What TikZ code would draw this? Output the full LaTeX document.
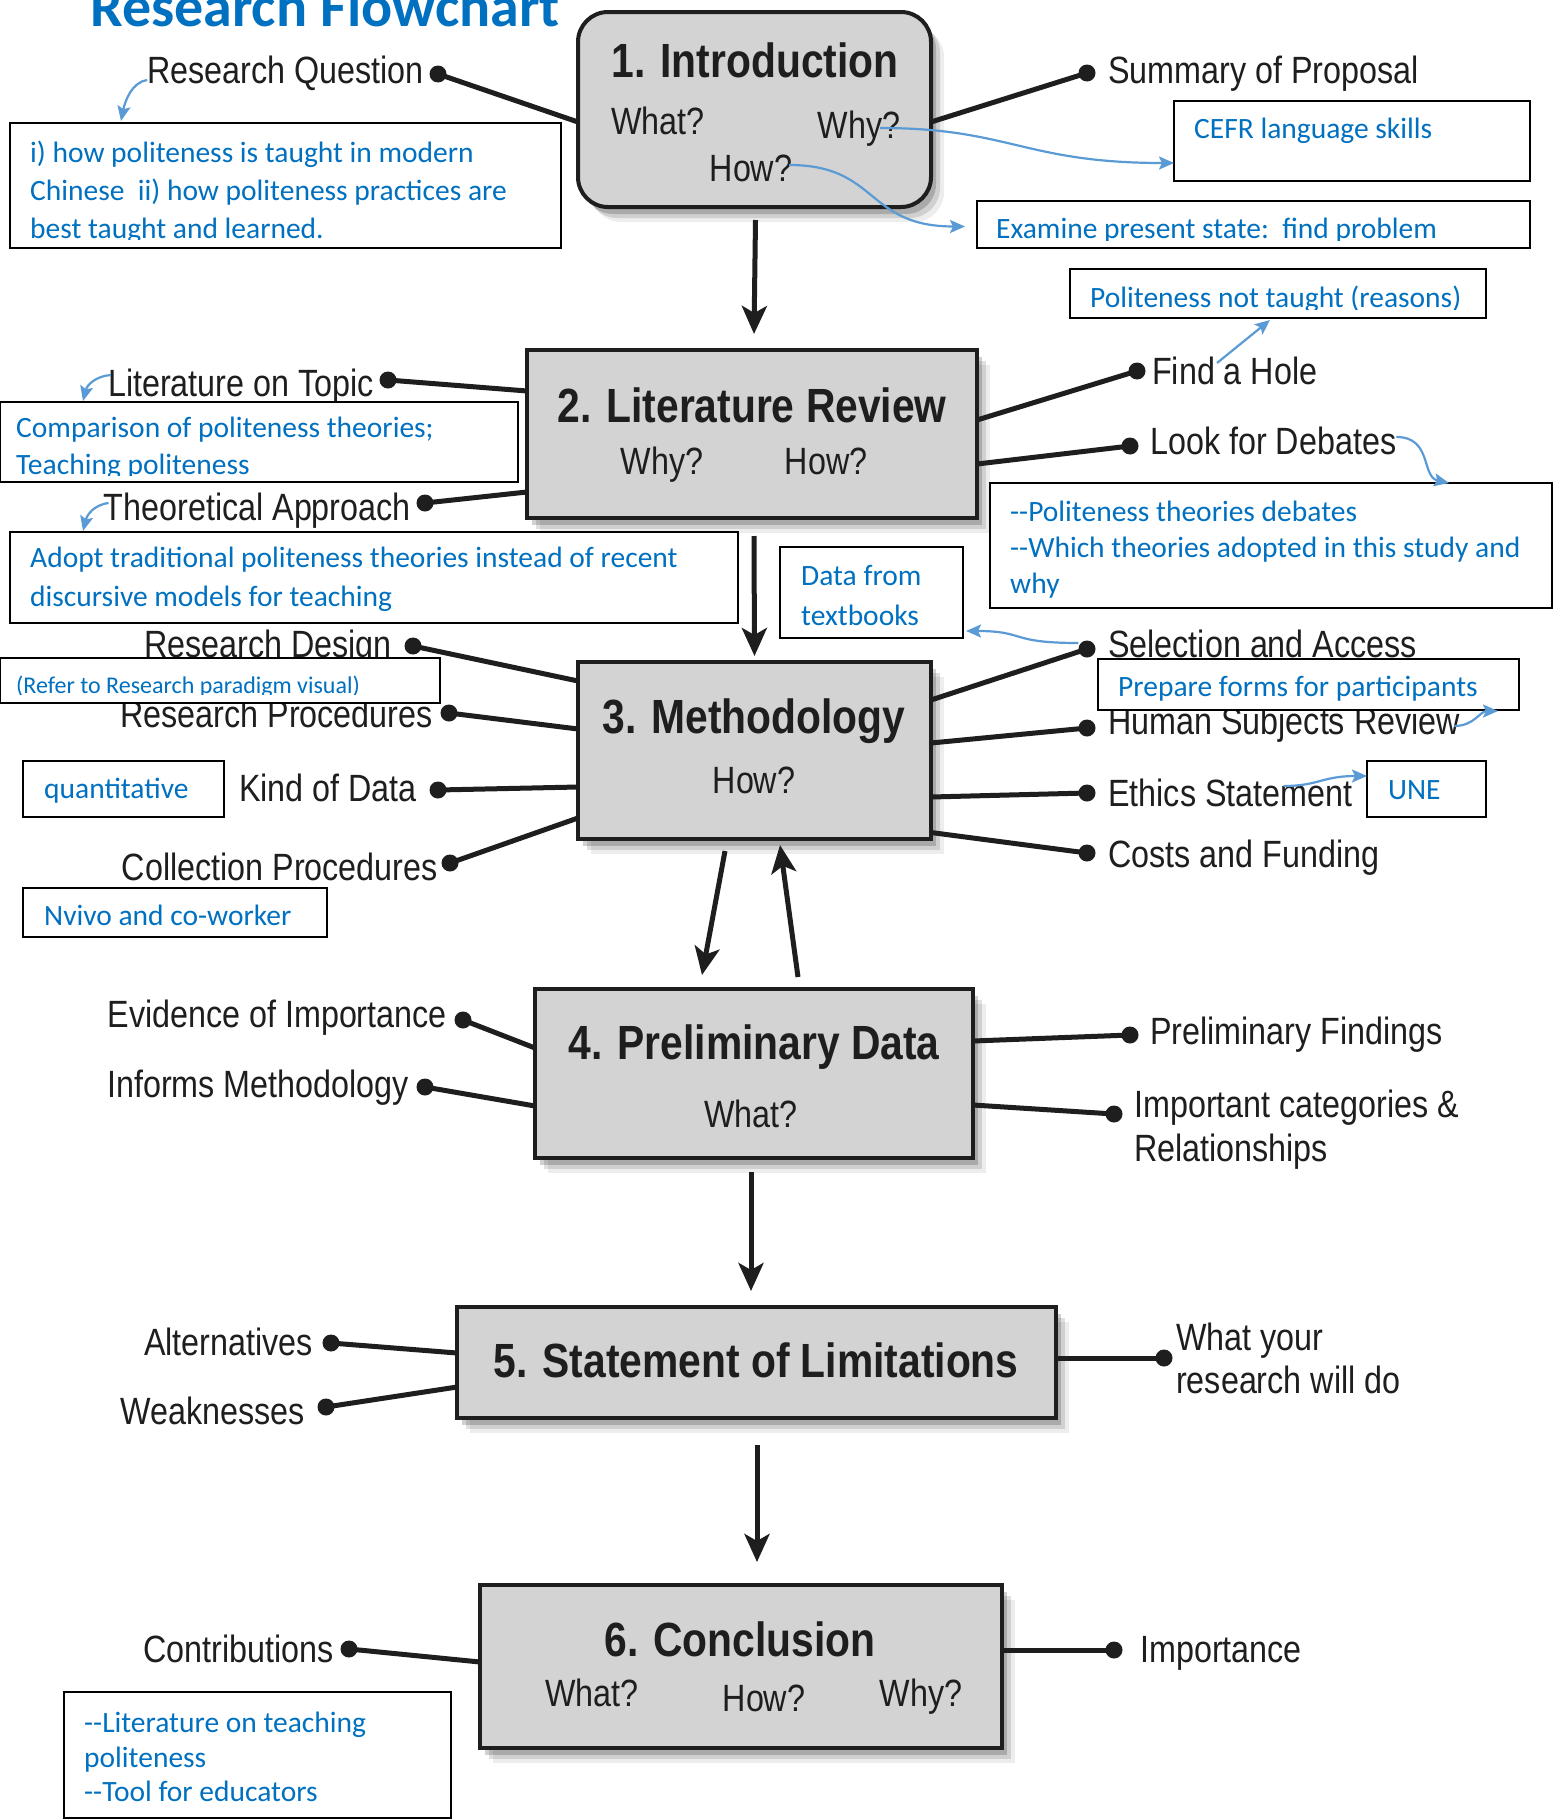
\documentclass[tikz,border=0pt]{standalone}
\usepackage{fontspec}
\newfontfamily\gf[FakeStretch=0.85]{Liberation Sans}
\newfontfamily\cf{Carlito}
\usetikzlibrary{arrows.meta,calc,shadows}
\definecolor{bluet}{HTML}{0070C0}
\definecolor{bluea}{HTML}{5B9BD5}
\definecolor{boxfill}{HTML}{D3D3D3}
\definecolor{ink}{HTML}{1E1E1E}
\begin{document}
\begin{tikzpicture}[x=1pt,y=-1pt,
  gbox/.style={draw=ink, line width=4pt, fill=boxfill, inner sep=0pt, outer sep=0pt,
    drop shadow={shadow xshift=13pt, shadow yshift=-15pt, opacity=0.07, fill=black},
    drop shadow={shadow xshift=9pt, shadow yshift=-11pt, opacity=0.12, fill=black},
    drop shadow={shadow xshift=5pt, shadow yshift=-7pt, opacity=0.18, fill=black}},
  gtitle/.style={font=\gf\bfseries\fontsize{48}{54}\selectfont, text=ink, inner sep=0pt, anchor=base},
  gq/.style={font=\gf\fontsize{38}{44}\selectfont, text=ink, inner sep=0pt, anchor=base},
  glL/.style={font=\gf\fontsize{38}{44}\selectfont, text=ink, inner sep=0pt, anchor=base east},
  glR/.style={font=\gf\fontsize{38}{44}\selectfont, text=ink, inner sep=0pt, anchor=base west},
  dotn/.style={circle, fill=ink, inner sep=0pt, minimum size=17pt},
  conn/.style={line width=5pt, draw=ink},
  flow/.style={line width=5pt, draw=ink, -{Stealth[length=28pt,width=25pt,inset=7pt]}},
  bbox/.style={draw=black, line width=2.5pt, fill=white, inner sep=0pt, outer sep=0pt},
  btext/.style={font=\cf\fontsize{29.5}{35}\selectfont, text=bluet, inner sep=0pt, anchor=base west},
  barrow/.style={draw=bluea, line width=2.2pt, -{Stealth[length=15pt,width=13pt,inset=3pt]}}
]
\useasboundingbox (0,0) rectangle (1554,1820);
\clip (0,0) rectangle (1554,1820);
\fill[white] (0,0) rectangle (1554,1820);

% ---------- Title
\node[font=\cf\bfseries\fontsize{58}{64}\selectfont, text=bluet, inner sep=0pt, anchor=base west] (title) at (90,26) {Research Flowchart};

% ---------- Box 1
\node[gbox, rounded corners=30pt, minimum width=353pt, minimum height=195pt] (b1) at (754.5,109.5) {};
\node[gtitle] (t1) at (755,77) {1. Introduction};
\node[gq] (q1a) at (658,134) {What?};
\node[gq] (q1b) at (859,138) {Why?};
\node[gq] (q1c) at (751,181) {How?};

\node[dotn] (dRQ) at (438,74) {};
\node[glL] (lRQ) at (424,83) {Research Question};
\draw[conn] (dRQ.center) -- ($(b1.west)+(0,12.5)$);
\node[dotn] (dSP) at (1087,73) {};
\node[glR] (lSP) at (1108,83) {Summary of Proposal};
\draw[conn] ($(b1.east)+(0,12.5)$) -- (dSP.center);

% ---------- Box 2
\node[gbox, minimum width=450pt, minimum height=168pt] (b2) at (752,434) {};
\node[gtitle] (t2) at (752,422) {2. Literature Review};
\node[gq] (q2a) at (662,474) {Why?};
\node[gq] (q2b) at (826,474) {How?};
\draw[flow] ($(b1.south)+(1,13)$) -- ($(b2.north)+(2,-16)$);

\node[dotn] (dLT) at (388,380) {};
\node[glL] (lLT) at (374,396) {Literature on Topic};
\draw[conn] (dLT.center) -- ($(b2.west)+(0,-43)$);
\node[dotn] (dTA) at (425,503) {};
\node[glL] (lTA) at (411,520) {Theoretical Approach};
\draw[conn] (dTA.center) -- ($(b2.west)+(0,58)$);
\node[dotn] (dFH) at (1137,371) {};
\node[glR] (lFH) at (1152,384) {Find a Hole};
\draw[conn] ($(b2.east)+(0,-14)$) -- (dFH.center);
\node[dotn] (dLD) at (1130,446) {};
\node[glR] (lLD) at (1150,454) {Look for Debates};
\draw[conn] ($(b2.east)+(0,30)$) -- (dLD.center);

% ---------- Box 3
\node[gbox, minimum width=353pt, minimum height=177pt] (b3) at (754.5,750.5) {};
\node[gtitle] (t3) at (754,733) {3. Methodology};
\node[gq] (q3) at (754,793) {How?};
\draw[flow] ($(b2.south)+(2,18)$) -- ($(b3.north)+(0,-6)$);

\node[dotn] (dRD) at (413,646) {};
\node[glL] (lRD) at (392,657) {Research Design};
\draw[conn] (dRD.center) -- ($(b3.west)+(0,-69.5)$);
\node[dotn] (dRP) at (449,713) {};
\node[glL] (lRP) at (433,727) {Research Procedures};
\draw[conn] (dRP.center) -- ($(b3.west)+(0,-21.5)$);
\node[dotn] (dKD) at (438,790) {};
\node[glL] (lKD) at (417,801) {Kind of Data};
\draw[conn] (dKD.center) -- ($(b3.west)+(0,36.5)$);
\node[dotn] (dCP) at (450,863) {};
\node[glL] (lCP) at (438,880) {Collection Procedures};
\draw[conn] (dCP.center) -- ($(b3.west)+(0,67.5)$);

\node[dotn] (dSA) at (1087,649) {};
\node[glR] (lSA) at (1108,657) {Selection and Access};
\draw[conn] ($(b3.east)+(0,-50.5)$) -- (dSA.center);
\node[dotn] (dHS) at (1087,728) {};
\node[glR] (lHS) at (1108,734) {Human Subjects Review};
\draw[conn] ($(b3.east)+(0,-7.5)$) -- (dHS.center);
\node[dotn] (dES) at (1087,793) {};
\node[glR] (lES) at (1108,806) {Ethics Statement};
\draw[conn] ($(b3.east)+(0,46.5)$) -- (dES.center);
\node[dotn] (dCF) at (1087,853) {};
\node[glR] (lCF) at (1108,867) {Costs and Funding};
\draw[conn] ($(b3.east)+(0,82)$) -- (dCF.center);

% ---------- Box 4
\node[gbox, minimum width=438pt, minimum height=169pt] (b4) at (754,1073.5) {};
\node[gtitle] (t4) at (754,1059) {4. Preliminary Data};
\node[gq] (q4) at (751,1127) {What?};
\draw[flow] ($(b3.south)+(-29.5,12)$) -- ($(b4.north)+(-52,-14)$);
\draw[flow] ($(b4.north)+(44,-12)$) -- ($(b3.south)+(25.5,6)$);

\node[dotn] (dEI) at (463,1020) {};
\node[glL] (lEI) at (447,1027) {Evidence of Importance};
\draw[conn] (dEI.center) -- ($(b4.west)+(0,-25.5)$);
\node[dotn] (dIM) at (425,1087) {};
\node[glL] (lIM) at (409,1097) {Informs Methodology};
\draw[conn] (dIM.center) -- ($(b4.west)+(0,32.5)$);
\node[dotn] (dPF) at (1130,1035) {};
\node[glR] (lPF) at (1150,1044) {Preliminary Findings};
\draw[conn] ($(b4.east)+(0,-32.5)$) -- (dPF.center);
\node[dotn] (dIC) at (1114,1114) {};
\node[glR] (lIC1) at (1134,1117) {Important categories \&};
\node[glR] (lIC2) at (1134,1161) {Relationships};
\draw[conn] ($(b4.east)+(0,31.5)$) -- (dIC.center);

% ---------- Box 5
\node[gbox, minimum width=599pt, minimum height=111pt] (b5) at (756.5,1362.5) {};
\node[gtitle] (t5) at (756,1377) {5. Statement of Limitations};
\draw[flow] ($(b4.south)+(-3,14)$) -- ($(b5.north)+(-5.5,-16)$);

\node[dotn] (dAL) at (331,1343) {};
\node[glL] (lAL) at (313,1355) {Alternatives};
\draw[conn] (dAL.center) -- ($(b5.west)+(0,-9.5)$);
\node[dotn] (dWK) at (326,1407) {};
\node[glL] (lWK) at (305,1424) {Weaknesses};
\draw[conn] (dWK.center) -- ($(b5.west)+(0,24.5)$);
\node[dotn] (dWY) at (1164,1358) {};
\node[glR] (lWY1) at (1176,1350) {What your};
\node[glR] (lWY2) at (1176,1393) {research will do};
\draw[conn] ($(b5.east)+(0,-4.5)$) -- (dWY.center);

% ---------- Box 6
\node[gbox, minimum width=522pt, minimum height=163pt] (b6) at (741,1666.5) {};
\node[gtitle] (t6) at (740,1656) {6. Conclusion};
\node[gq] (q6a) at (592,1706) {What?};
\node[gq] (q6b) at (764,1711) {How?};
\node[gq] (q6c) at (921,1706) {Why?};
\draw[flow] ($(b5.south)+(0.5,27)$) -- ($(b6.north)+(16,-23)$);

\node[dotn] (dCO) at (349,1649) {};
\node[glL] (lCO) at (334,1662) {Contributions};
\draw[conn] (dCO.center) -- ($(b6.west)+(0,-4.5)$);
\node[dotn] (dIP) at (1114,1650) {};
\node[glR] (lIP) at (1140,1662) {Importance};
\draw[conn] ($(b6.east)+(0,-16.5)$) -- (dIP.center);

% ---------- Blue annotation boxes
\node[bbox, minimum width=551pt, minimum height=125pt] (nA) at (285.5,185.5) {};
\begin{scope}
\clip (10,123) rectangle (561,239);
\node[btext] (xA1) at (30,162) {i) how politeness is taught in modern};
\node[btext] (xA2) at (30,200) {Chinese\ \ ii) how politeness practices are};
\node[btext] (xA3) at (30,238) {best taught and learned.};
\end{scope}

\node[bbox, minimum width=356pt, minimum height=80pt] (nB) at (1352,141) {};
\node[btext] (xB) at (1194,138) {CEFR language skills};

\node[bbox, minimum width=553pt, minimum height=47pt] (nC) at (1253.5,224.5) {};
\begin{scope}
\clip (977,201) rectangle (1530,240);
\node[btext] (xC) at (996,238) {Examine present state:\ \ find problem};
\end{scope}

\node[bbox, minimum width=416pt, minimum height=49pt] (nD) at (1278,293.5) {};
\begin{scope}
\clip (1070,269) rectangle (1486,309);
\node[btext] (xD) at (1090,307) {Politeness not taught (reasons)};
\end{scope}

\node[bbox, minimum width=518pt, minimum height=80pt] (nE) at (259,442) {};
\begin{scope}
\clip (0,402) rectangle (518,475);
\node[btext] (xE1) at (16,437) {Comparison of politeness theories;};
\node[btext] (xE2) at (16,474) {Teaching politeness};
\end{scope}

\node[bbox, minimum width=728pt, minimum height=91pt] (nF) at (374,577.5) {};
\node[btext] (xF1) at (30,567) {Adopt traditional politeness theories instead of recent};
\node[btext] (xF2) at (30,606) {discursive models for teaching};

\node[bbox, minimum width=562pt, minimum height=125pt] (nG) at (1271,545.5) {};
\node[btext] (xG1) at (1010,521) {--Politeness theories debates};
\node[btext] (xG2) at (1010,557) {--Which theories adopted in this study and};
\node[btext] (xG3) at (1010,593) {why};

\node[bbox, minimum width=183pt, minimum height=91pt] (nH) at (871.5,592.5) {};
\node[btext] (xH1) at (801,585) {Data from};
\node[btext] (xH2) at (801,625) {textbooks};

\node[bbox, minimum width=440pt, minimum height=45pt] (nI) at (220,680.5) {};
\begin{scope}
\clip (0,658) rectangle (440,694);
\node[btext, font=\cf\fontsize{24}{29}\selectfont] (xI) at (16,693) {(Refer to Research paradigm visual)};
\end{scope}

\node[bbox, minimum width=201pt, minimum height=56pt] (nJ) at (123.5,789) {};
\node[btext] (xJ) at (44,798) {quantitative};

\node[bbox, minimum width=304pt, minimum height=49pt] (nK) at (175,912.5) {};
\node[btext] (xK) at (44,925) {Nvivo and co-worker};

\node[bbox, minimum width=421pt, minimum height=51pt] (nL) at (1308.5,684.5) {};
\node[btext] (xL) at (1118,696) {Prepare forms for participants};

\node[bbox, minimum width=119pt, minimum height=56pt] (nM) at (1426.5,789) {};
\node[btext] (xM) at (1388,799) {UNE};

\node[bbox, minimum width=387pt, minimum height=126pt] (nN) at (257.5,1755) {};
\node[btext] (xN1) at (84,1732) {--Literature on teaching};
\node[btext] (xN2) at (84,1767) {politeness};
\node[btext] (xN3) at (84,1801) {--Tool for educators};

% ---------- Blue arrows
\draw[barrow] ($(lRQ.base west)+(0,-3)$) .. controls +(-15,2) and +(4,-20) .. ($(nA.north west)+(111,-2)$);
\draw[barrow] ($(q1b.base)+(21,-10)$) .. controls +(130,0) and +(-150,0) .. ($(nB.west)+(0,22)$);
\draw[barrow] ($(q1c.base)+(38,-16)$) .. controls +(90,0) and +(-100,0) .. ($(nC.west)+(-12,2)$);
\draw[barrow] ($(lLT.base west)+(3,-21)$) .. controls +(-15,1) and +(4,-16) .. ($(nE.north west)+(83,-1)$);
\draw[barrow] ($(lTA.base west)+(5,-17)$) .. controls +(-15,2) and +(4,-16) .. ($(nF.north west)+(73,-1)$);
\draw[barrow] ($(lFH.base west)+(65,-21)$) -- ($(nD.south west)+(200,2)$);
\draw[barrow] ($(lLD.base east)+(0,-17)$) .. controls +(36,0) and +(-28,-6) .. ($(nG.north west)+(459,0)$);
\draw[barrow] ($(dSA.west)+(0,-6)$) .. controls +(-70,0) and +(60,0) .. ($(nH.south east)+(3,-7)$);
\draw[barrow] ($(lHS.base east)+(-6,-8)$) .. controls +(20,0) and +(-18,0) .. ($(nL.south east)+(-21,1)$);
\draw[barrow] ($(lES.base east)+(-69,-20)$) .. controls +(35,0) and +(-45,0) .. ($(nM.west)+(0,-13)$);
\end{tikzpicture}
\end{document}
